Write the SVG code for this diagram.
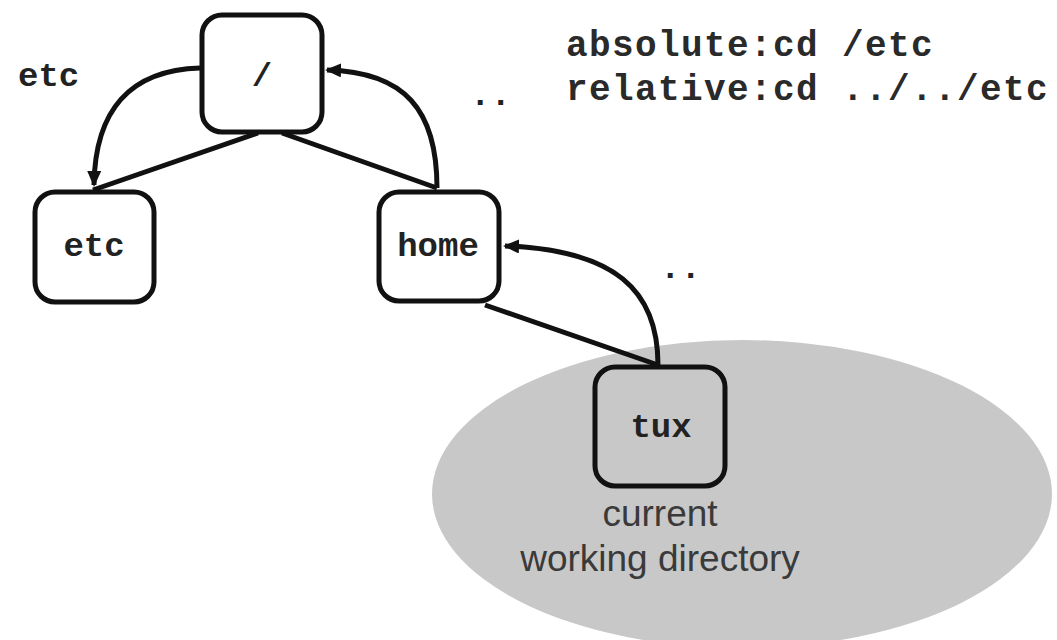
<svg xmlns="http://www.w3.org/2000/svg" width="1057" height="640" viewBox="0 0 1057 640">
<style>
.box{fill:#fff;stroke:#111;stroke-width:5}
.mono{font-family:"Liberation Mono","Courier New",monospace;font-weight:bold;font-size:34px;fill:#222}
.cmd{font-size:36px;letter-spacing:1.4px;fill:#2a2a2a}
.sans{font-family:"Liberation Sans",Arial,sans-serif;font-size:37px;fill:#3a3a3a}
.edge{fill:none;stroke:#111;stroke-width:5}
</style>
<defs>
<marker id="ah" markerUnits="userSpaceOnUse" markerWidth="16" markerHeight="14" refX="14" refY="7" orient="auto">
<path d="M0,0 L16,7 L0,14 z" fill="#111"/>
</marker>
</defs>
<rect width="1057" height="640" fill="#fff"/>
<ellipse cx="742" cy="494" rx="310" ry="154" fill="#c8c8c8"/>
<g id="connectors">
<line class="edge" x1="258" y1="133" x2="93" y2="190"/>
<line class="edge" x1="282" y1="133" x2="437" y2="188"/>
<line class="edge" x1="485" y1="305" x2="658" y2="365"/>
<path class="edge" d="M200,68 C130,70 95,110 94,185" marker-end="url(#ah)"/>
<path class="edge" d="M437,188 C437,110 405,72 327,70" marker-end="url(#ah)"/>
<path class="edge" d="M658,365 C658,290 615,250 505,246" marker-end="url(#ah)"/>
</g>
<g id="node-root">
<rect class="box" x="202" y="15" width="120" height="117" rx="20"/>
<text class="mono" x="262" y="86" text-anchor="middle">/</text>
</g>
<g id="node-etc">
<rect class="box" x="35" y="192" width="119" height="110" rx="20"/>
<text class="mono" x="94" y="256" text-anchor="middle">etc</text>
</g>
<g id="node-home">
<rect class="box" x="379" y="192" width="120" height="109" rx="20"/>
<text class="mono" x="438" y="256" text-anchor="middle">home</text>
</g>
<g id="node-tux">
<rect class="box" x="595" y="367" width="130" height="119" rx="20" style="fill:#c8c8c8"/>
<text class="mono" x="661" y="437" text-anchor="middle">tux</text>
</g>
<g id="labels">
<text class="mono" x="18" y="86">etc</text>
<text class="mono" x="470" y="105">..</text>
<text class="mono" x="660" y="278">..</text>
<text class="mono cmd" x="566" y="56">absolute:cd /etc</text>
<text class="mono cmd" x="566" y="100">relative:cd ../../etc</text>
<text class="sans" x="660" y="526" text-anchor="middle">current</text>
<text class="sans" x="660" y="571" text-anchor="middle">working directory</text>
</g>
</svg>
